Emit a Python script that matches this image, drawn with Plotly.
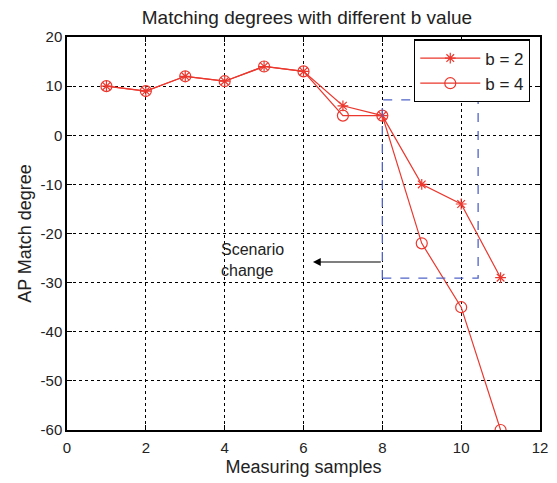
import plotly.graph_objects as go

samples = [1, 2, 3, 4, 5, 6, 7, 8, 9, 10, 11]
b2 = [10, 9, 12, 11, 14, 13, 6, 4, -10, -14, -29]
b4 = [10, 9, 12, 11, 14, 13, 4, 4, -22, -35, -60]
x_ticks = [0, 2, 4, 6, 8, 10, 12]
y_ticks = [20, 10, 0, -10, -20, -30, -40, -50, -60]
y_tick_labels = ["20", "10", "0", "-10", "-20", "-30", "-40", "-50", "-60"]
red = "rgb(235,55,45)"
font_family = "Liberation Sans, Arial"
txt = "#222"

fig = go.Figure()
fig.add_trace(go.Scatter(x=samples, y=b2, name="b = 2", mode="lines+markers",
                         line=dict(color=red, width=1.2),
                         marker=dict(symbol="asterisk-open", size=9, color=red,
                                     line=dict(color=red, width=1.2))))
fig.add_trace(go.Scatter(x=samples, y=b4, name="b = 4", mode="lines+markers",
                         line=dict(color=red, width=1.2),
                         marker=dict(symbol="circle-open", size=11, color=red,
                                     line=dict(color=red, width=1.2))))

fig.add_shape(type="rect", x0=8, x1=10.43, y0=-29.1, y1=7.2, xref="x", yref="y",
              line=dict(color="rgb(80,100,200)", width=1.3, dash="dash"))
fig.add_annotation(x=6.24, y=-25.8, ax=8, ay=-25.8, xref="x", yref="y",
                   axref="x", ayref="y", text="", showarrow=True,
                   arrowhead=2, arrowsize=1.3, arrowwidth=1.2, arrowcolor="black")
fig.add_annotation(x=3.86, y=-25.3, xref="x", yref="y", text="Scenario<br>change",
                   showarrow=False, xanchor="left", align="left",
                   font=dict(family=font_family, size=16, color=txt))

axis_common = dict(showline=True, linecolor="black", linewidth=1.5, mirror="ticks",
                   ticks="inside", ticklen=5, tickcolor="black",
                   showgrid=True, gridcolor="black", griddash="dot", gridwidth=1,
                   zeroline=False,
                   tickfont=dict(family=font_family, size=15, color=txt))

fig.update_xaxes(range=[0, 12], tickvals=x_ticks, ticklabelstandoff=3,
                 title=dict(text="Measuring samples", standoff=6,
                            font=dict(family=font_family, size=18, color=txt)),
                 **axis_common)
fig.update_yaxes(range=[-60, 20], tickvals=y_ticks, ticktext=y_tick_labels,
                 title=dict(text="AP Match degree", standoff=4,
                            font=dict(family=font_family, size=18, color=txt)),
                 **axis_common)

fig.update_layout(
    width=557, height=483,
    margin=dict(l=67, r=9, t=37, b=52),
    paper_bgcolor="white", plot_bgcolor="white",
    title=dict(text="Matching degrees with different b value", x=0.551, xanchor="center",
               y=0.965, yanchor="middle",
               font=dict(family=font_family, size=19, color=txt)),
    legend=dict(x=0.979, y=0.994, xanchor="right", yanchor="top",
                bgcolor="white", bordercolor="black", borderwidth=1.2,
                font=dict(family=font_family, size=17, color=txt),
                itemwidth=60, tracegroupgap=2),
    showlegend=True,
)

fig.write_html("out.html")
